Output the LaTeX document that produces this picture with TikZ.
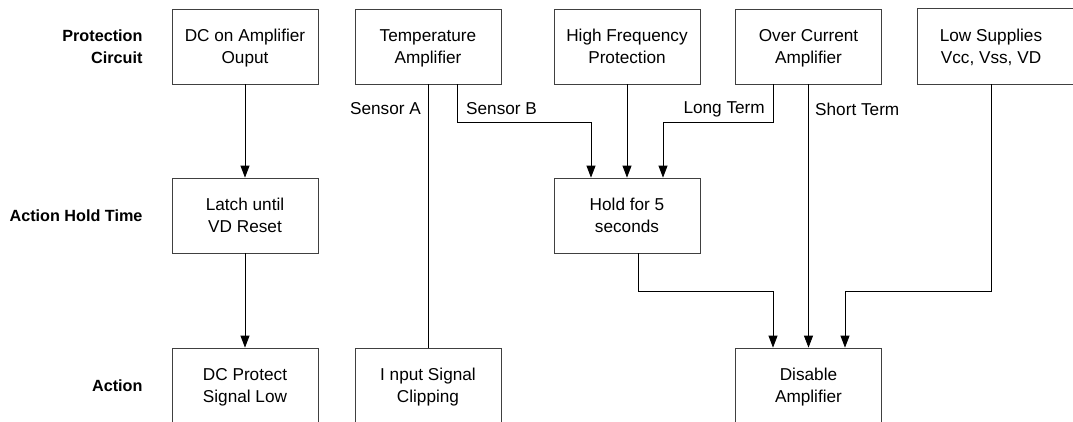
\documentclass[tikz,border=0pt]{standalone}
\usepackage{fontspec}
\setmainfont{Liberation Sans}
\usetikzlibrary{arrows.meta}
\begin{document}
\begin{tikzpicture}[x=1pt,y=-1pt,
  box/.style={draw=black!75,line width=0.8pt,minimum width=146pt,minimum height=75pt,
    align=center,inner sep=0pt,text depth=0pt,font=\fontsize{17.2}{22}\selectfont},
  rowlabel/.style={anchor=east,align=right,text depth=0pt,font=\fontsize{16.2}{22}\selectfont\bfseries},
  lbl/.style={font=\fontsize{17.2}{22}\selectfont,inner sep=0pt},
  conn/.style={draw=black,line width=0.8pt},
  arr/.style={conn,-{Triangle[length=12pt,width=9pt]}}]
\useasboundingbox (0,0) rectangle (1073,421);
% row labels
\node[rowlabel] (r1) at (146,46.5) {Protection\\Circuit};
\node[rowlabel] (r2) at (146,215.5) {Action Hold Time};
\node[rowlabel] (r3) at (146,385.5) {Action};
% top row
\node[box] (b1) at (245,46.5) {DC on Amplifier\\Ouput};
\node[box] (b2) at (428,46.5) {Temperature\\Amplifier};
\node[box] (b3) at (627,46.5) {High Frequency\\Protection};
\node[box] (b4) at (808.5,46.5) {Over Current\\Amplifier};
\node[box,draw=none] (b5) at (991,46.5) {Low Supplies\\Vcc, Vss, VD};
\draw[draw=black!75,line width=0.8pt] ([xshift=40pt]b5.north east) -- (b5.north west) -- (b5.south west) -- ([xshift=40pt]b5.south east);
% middle row
\node[box] (l1) at (245,215.5) {Latch until\\VD Reset};
\node[box] (h) at (627,215.5) {Hold for 5\\seconds};
% bottom row
\node[box] (a1) at (245,385.5) {DC Protect\\Signal Low};
\node[box] (a2) at (428,385.5) {I nput Signal\\Clipping};
\node[box] (a3) at (808.5,385.5) {Disable\\Amplifier};
% connectors
\draw[arr] (b1) -- (l1);
\draw[arr] (l1) -- (a1);
\draw[conn] (b2) -- (a2);
\draw[arr] ([xshift=29pt]b2.south) -- ++(0,38) -| ([xshift=-36pt]h.north);
\draw[arr] (b3) -- (h);
\draw[arr] ([xshift=-35.5pt]b4.south) -- ++(0,38) -| ([xshift=36pt]h.north);
\draw[arr] (b4) -- (a3);
\draw[arr] (b5.south) -- ++(0,207) -| ([xshift=36.5pt]a3.north);
\draw[arr] ([xshift=11pt]h.south) -- ++(0,38) -| ([xshift=-35.5pt]a3.north);
% connector labels
\node[lbl,anchor=east] (sa) at (421,109) {Sensor A};
\node[lbl,anchor=west] (sb) at (466,109) {Sensor B};
\node[lbl,anchor=east] (lt) at (765,109) {Long Term};
\node[lbl,anchor=west] (st) at (815,109) {Short Term};
\end{tikzpicture}
\end{document}
